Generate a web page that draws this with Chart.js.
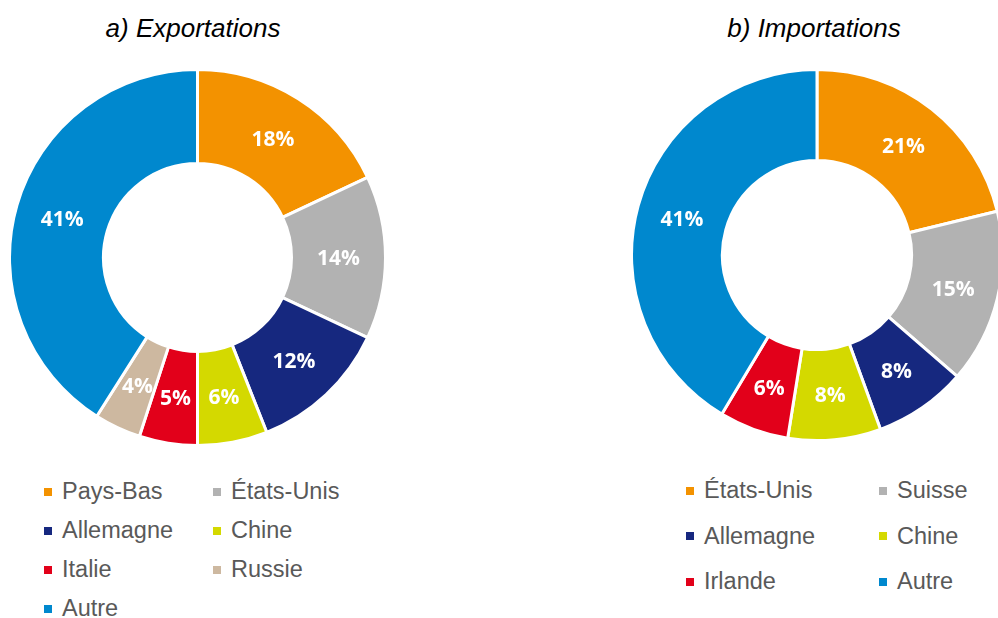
<!DOCTYPE html>
<html>
<head>
<meta charset="utf-8">
<script src="https://cdn.jsdelivr.net/npm/chart.js@4"></script>
<style>
  body { margin: 0; width: 998px; height: 618px; overflow: hidden; background: #fff; position: relative; font-family: "Liberation Sans", Arial, sans-serif; }
  .title { position: absolute; top: 13px; font-style: italic; font-size: 26px; line-height: 30px; color: #000; text-align: center; width: 300px; }
  .box { position: absolute; }
  .legend { position: absolute; display: grid; color: #595959; font-size: 23.5px; }
  .legend div { display: flex; align-items: center; white-space: nowrap; }
  .legend span.sw { display: inline-block; width: 8px; height: 8px; margin-right: 10px; }
</style>
</head>
<body>
<div class="title" style="left:43px">a) Exportations</div>
<div class="title" style="left:664px">b) Importations</div>
<div class="box" style="left:8px;top:68px;width:379px;height:379px"><canvas id="exp"></canvas></div>
<div class="box" style="left:630px;top:68px;width:374px;height:374px"><canvas id="imp"></canvas></div>
<div class="legend" id="legExp" style="left:44px;top:472px;grid-template-columns:169px 169px;grid-auto-rows:39px"></div>
<div class="legend" id="legImp" style="left:686px;top:468px;grid-template-columns:193px 120px;grid-auto-rows:45.5px"></div>
<script>
// a) Exportations
const expLabels = ["Pays-Bas", "États-Unis", "Allemagne", "Chine", "Italie", "Russie", "Autre"];
const expValues = [18, 14, 12, 6, 5, 4, 41];
const expColors = ["#F39200", "#B2B2B2", "#16287F", "#D4D900", "#E2001A", "#CDB8A0", "#0088CE"];

// b) Importations
const impLabels = ["États-Unis", "Suisse", "Allemagne", "Chine", "Irlande", "Autre"];
const impValues = [21, 15, 8, 8, 6, 41];
const impColors = ["#F39200", "#B2B2B2", "#16287F", "#D4D900", "#E2001A", "#0088CE"];

// white % labels in the middle of each slice
const sliceLabels = {
  id: "sliceLabels",
  afterDatasetsDraw(chart) {
    const ctx = chart.ctx;
    const ds = chart.data.datasets[0];
    ctx.save();
    ctx.fillStyle = "#fff";
    ctx.font = "bold 21px 'Open Sans'";
    ctx.textAlign = "center";
    ctx.textBaseline = "middle";
    chart.getDatasetMeta(0).data.forEach((arc, i) => {
      const p = arc.tooltipPosition();
      ctx.fillText(ds.data[i] + "%", p.x, p.y + 2);
    });
    ctx.restore();
  }
};

function donut(id, labels, values, colors, cutout) {
  new Chart(document.getElementById(id), {
    type: "doughnut",
    data: {
      labels: labels,
      datasets: [{ data: values, backgroundColor: colors, borderColor: "#fff", borderWidth: 3 }]
    },
    options: {
      responsive: true,
      maintainAspectRatio: false,
      animation: false,
      cutout: cutout,
      plugins: { legend: { display: false }, tooltip: { enabled: false } }
    },
    plugins: [sliceLabels]
  });
}

function legend(id, labels, colors) {
  const el = document.getElementById(id);
  labels.forEach((l, i) => {
    const d = document.createElement("div");
    d.innerHTML = '<span class="sw" style="background:' + colors[i] + '"></span>' + l;
    el.appendChild(d);
  });
}

donut("exp", expLabels, expValues, expColors, "50%");
donut("imp", impLabels, impValues, impColors, "51%");
legend("legExp", expLabels, expColors);
legend("legImp", impLabels, impColors);
</script>
</body>
</html>
